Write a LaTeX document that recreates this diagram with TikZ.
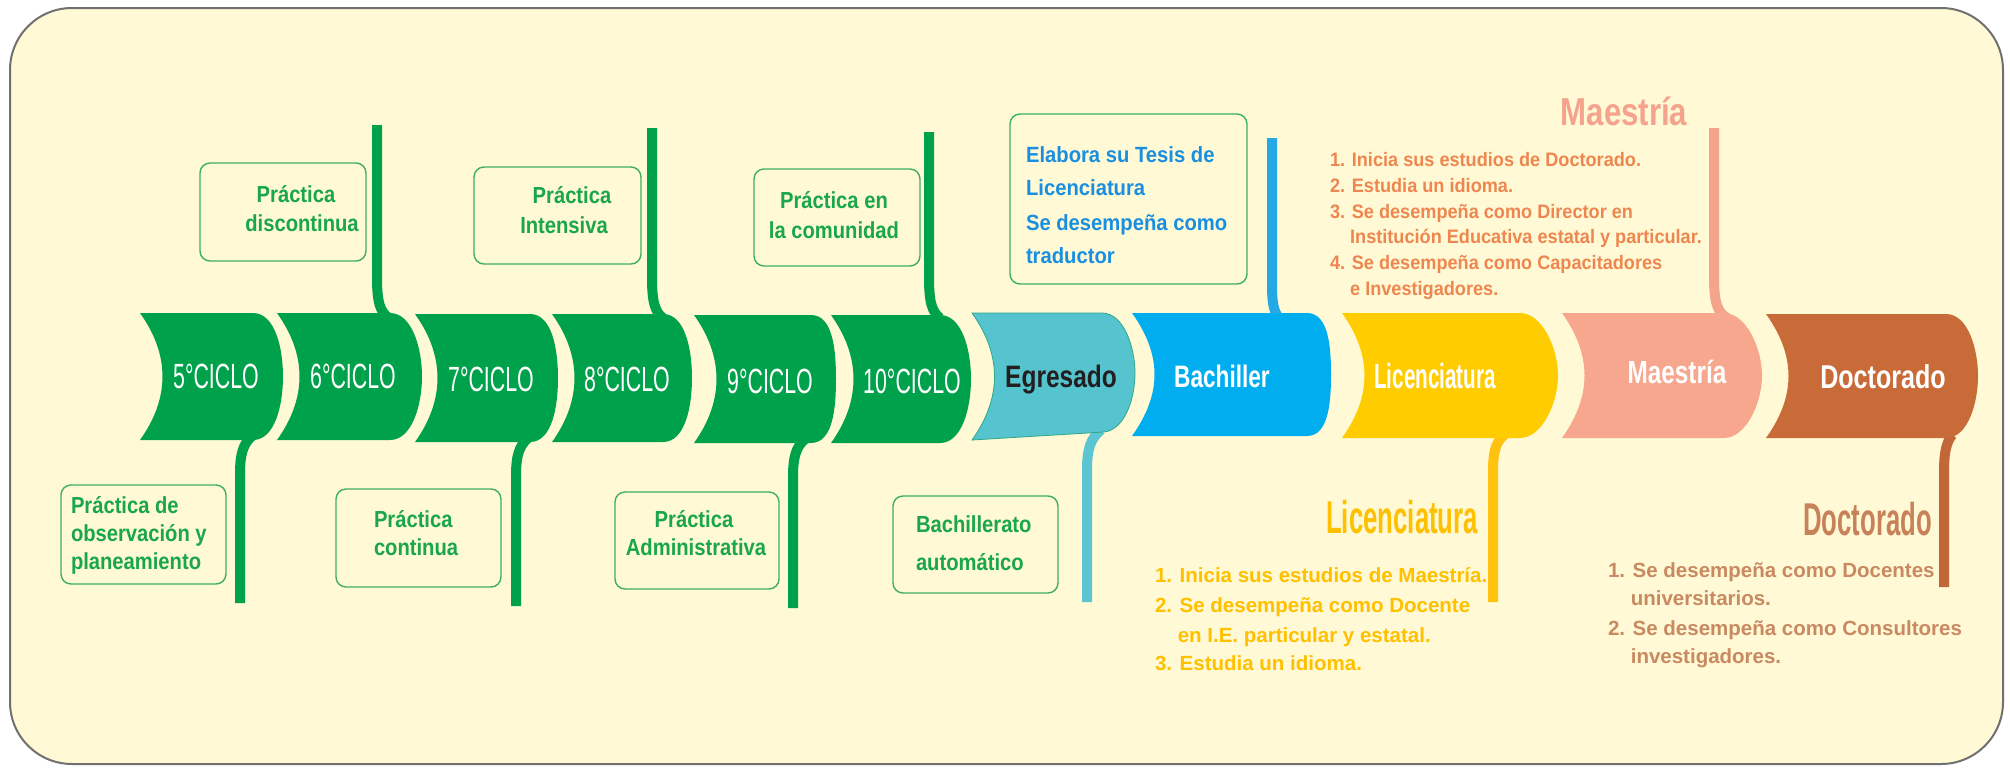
\documentclass[tikz,border=0pt]{standalone}
\usepackage{fontspec}
\setmainfont{Liberation Sans}
\newfontfamily\fCiclo[FakeStretch=0.61]{Liberation Sans}
\newfontfamily\fEgr[FakeStretch=0.79]{Liberation Sans}
\newfontfamily\fBach[FakeStretch=0.73]{Liberation Sans}
\newfontfamily\fLicS[FakeStretch=0.59]{Liberation Sans}
\newfontfamily\fMD[FakeStretch=0.76]{Liberation Sans}
\newfontfamily\fHead[FakeStretch=0.56]{Liberation Sans}
\newfontfamily\fMaeH[FakeStretch=0.80]{Liberation Sans}
\newfontfamily\fBox[FakeStretch=0.87]{Liberation Sans}
\newfontfamily\fTes[FakeStretch=0.92]{Liberation Sans}
\newfontfamily\fML[FakeStretch=0.93]{Liberation Sans}
\definecolor{bgc}{HTML}{FFF9D5}
\definecolor{framec}{HTML}{707070}
\definecolor{grn}{HTML}{00A14B}
\definecolor{boxgrn}{HTML}{3DB060}
\definecolor{boxtxt}{HTML}{1AA64A}
\definecolor{egr}{HTML}{55C4CF}
\definecolor{egrline}{HTML}{2FA88A}
\definecolor{egrstem}{HTML}{5BC5D1}
\definecolor{bachc}{HTML}{00AEEF}
\definecolor{bachstem}{HTML}{25A9E4}
\definecolor{licc}{HTML}{FFCC00}
\definecolor{licstem}{HTML}{FFC20E}
\definecolor{maec}{HTML}{F7A78E}
\definecolor{maestem}{HTML}{F4A48C}
\definecolor{docc}{HTML}{C96B38}
\definecolor{docstem}{HTML}{C2673A}
\definecolor{tesc}{HTML}{1A8FDF}
\definecolor{maelist}{HTML}{EE8650}
\definecolor{liclist}{HTML}{FFC000}
\definecolor{doclist}{HTML}{C98A62}
\definecolor{dochead}{HTML}{C8825A}
\definecolor{maehead}{HTML}{F5A38C}
\definecolor{egrtxt}{HTML}{231F20}
\newcommand\banner[6]{%
  \path[#6] (#1,#4) -- (#2,#4) .. controls ({#2+22},#4) and (#3,{#4+35}) .. (#3,{(#4+#5)/2})
    .. controls (#3,{#5-35}) and ({#2+22},#5) .. (#2,#5) -- (#1,#5)
    .. controls ({#1+30},{#5-42}) and ({#1+30},{#4+42}) .. cycle;}
\tikzset{
  lbl/.style={inner sep=0pt, outer sep=0pt},
  ciclo/.style={lbl, anchor=base, text=white, font={\fCiclo\fontsize{17.5}{20}\selectfont}},
  gbox/.style={draw=boxgrn, line width=0.7pt, rounded corners=5pt},
  btxt/.style={lbl, text=boxtxt, font={\fBox\bfseries\fontsize{11.6}{14}\selectfont}},
  ttxt/.style={lbl, anchor=base west, text=tesc, font={\fTes\bfseries\fontsize{11}{13}\selectfont}},
  mtxt/.style={lbl, anchor=base west, text=maelist, font={\fML\bfseries\fontsize{9.75}{12}\selectfont}},
  ltxt/.style={lbl, anchor=base west, text=liclist, font={\bfseries\fontsize{10.25}{12}\selectfont}},
  dtxt/.style={lbl, anchor=base west, text=doclist, font={\bfseries\fontsize{10.25}{12}\selectfont}},
  stem/.style={line width=5pt, line cap=butt}
}
\begin{document}
\begin{tikzpicture}[x=0.5pt,y=-0.5pt]
\useasboundingbox (0,0) rectangle (2010,767);
\fill[white] (0,0) rectangle (2010,767);
\draw[fill=bgc, draw=framec, line width=1pt, rounded corners=31pt] (10,8) rectangle (2003,764);

% ---- stem coordinates
\coordinate (s6t) at (377,125);  \coordinate (s6j) at (389,318);
\coordinate (s8t) at (652,128);  \coordinate (s8j) at (663,318);
\coordinate (s10t) at (929,132); \coordinate (s10j) at (940,318);
\coordinate (sBt) at (1272,138); \coordinate (sBj) at (1279,318);
\coordinate (sMt) at (1714,128); \coordinate (sMj) at (1727,318);
\coordinate (s5j) at (252,436);  \coordinate (s5b) at (240,603);
\coordinate (s7j) at (528,438);  \coordinate (s7b) at (516,606);
\coordinate (s9j) at (805,439);  \coordinate (s9b) at (793,608);
\coordinate (sEj) at (1101,430); \coordinate (sEb) at (1087,602);
\coordinate (sLj) at (1504,435); \coordinate (sLb) at (1493,602);
\coordinate (sDj) at (1952,435); \coordinate (sDb) at (1944,587);

% ---- up stems
\draw[stem, grn] (s6t) -- (377,278) .. controls (377,302) and (380,312) .. (s6j);
\draw[stem, grn] (s8t) -- (652,278) .. controls (652,302) and (655,312) .. (s8j);
\draw[stem, grn] (s10t) -- (929,278) .. controls (929,302) and (932,312) .. (s10j);
\draw[stem, bachstem] (sBt) -- (1272,285) .. controls (1272,304) and (1274,312) .. (sBj);
\draw[stem, maestem] (sMt) -- (1714,276) .. controls (1714,302) and (1717,312) .. (sMj);
% ---- down stems
\draw[stem, grn] (s5j) .. controls (243,444) and (240,454) .. (240,474) -- (s5b);
\draw[stem, grn] (s7j) .. controls (519,446) and (516,456) .. (516,476) -- (s7b);
\draw[stem, grn] (s9j) .. controls (796,447) and (793,457) .. (793,477) -- (s9b);
\draw[stem, egrstem] (sEj) .. controls (1091,438) and (1087,448) .. (1087,470) -- (sEb);
\draw[stem, licstem] (sLj) .. controls (1495,443) and (1493,453) .. (1493,473) -- (sLb);
\draw[stem, docstem] (sDj) .. controls (1946,443) and (1944,453) .. (1944,473) -- (sDb);

% ---- banners
\banner{140}{253}{283}{313}{440}{fill=grn}
\banner{277}{390}{422}{313}{440}{fill=grn}
\banner{415}{530}{558}{314}{442}{fill=grn}
\banner{552}{663}{692}{314}{442}{fill=grn}
\banner{694}{811}{836}{315}{443}{fill=grn}
\banner{831}{940}{971}{315}{443}{fill=grn}
\path[fill=egr, draw=egrline, line width=0.4pt] (972,313) -- (1102,313)
  .. controls (1124,313) and (1135,348) .. (1135,373)
  .. controls (1135,400) and (1124,430) .. (1104,432) -- (972,440)
  .. controls (1002,398) and (1002,355) .. cycle;
\banner{1132}{1307}{1331}{313}{436}{fill=bachc}
\banner{1342}{1520}{1558}{313}{438}{fill=licc}
\banner{1562}{1724}{1762}{313}{438}{fill=maec}
\banner{1766}{1946}{1978}{314}{438}{fill=docc}

% ---- banner labels
\node[ciclo] (c5) at (216,388) {5°CICLO};
\node[ciclo] (c6) at (353,388) {6°CICLO};
\node[ciclo] (c7) at (491,391) {7°CICLO};
\node[ciclo] (c8) at (627,391) {8°CICLO};
\node[ciclo] (c9) at (770,393) {9°CICLO};
\node[ciclo] (c10) at (912,393) {10°CICLO};
\node[lbl, anchor=base, text=egrtxt, font={\fEgr\bfseries\fontsize{15.5}{18}\selectfont}] (egr) at (1061,387) {Egresado};
\node[lbl, anchor=base, text=white, font={\fBach\bfseries\fontsize{15.5}{18}\selectfont}] (bach) at (1222,387) {Bachiller};
\node[lbl, anchor=base, text=white, font={\fLicS\bfseries\fontsize{17.5}{20}\selectfont}] (lic) at (1435,388) {Licenciatura};
\node[lbl, anchor=base, text=white, font={\fMD\bfseries\fontsize{16}{19}\selectfont}] (mae) at (1677,383) {Maestría};
\node[lbl, anchor=base, text=white, font={\fMD\bfseries\fontsize{16.5}{19}\selectfont}] (doc) at (1883,388) {Doctorado};

% ---- green boxes
\draw[gbox] (200,163) rectangle (366,261);
\node[btxt, anchor=base] (disc1) at (296,202) {Práctica};
\node[btxt, anchor=base] (disc2) at (302,231) {discontinua};
\draw[gbox] (474,167) rectangle (641,264);
\node[btxt, anchor=base] (int1) at (572,203) {Práctica};
\node[btxt, anchor=base] (int2) at (564,233) {Intensiva};
\draw[gbox] (754,169) rectangle (920,266);
\node[btxt, anchor=base] (com1) at (834,208) {Práctica en};
\node[btxt, anchor=base] (com2) at (834,238) {la comunidad};
\draw[gbox] (61,485) rectangle (226,584);
\node[btxt, anchor=base west] (obs1) at (71,513) {Práctica de};
\node[btxt, anchor=base west] (obs2) at (71,541) {observación y};
\node[btxt, anchor=base west] (obs3) at (71,569) {planeamiento};
\draw[gbox] (336,489) rectangle (501,587);
\node[btxt, anchor=base west] (cont1) at (374,527) {Práctica};
\node[btxt, anchor=base west] (cont2) at (374,555) {continua};
\draw[gbox] (615,492) rectangle (779,589);
\node[btxt, anchor=base] (adm1) at (694,527) {Práctica};
\node[btxt, anchor=base] (adm2) at (696,555) {Administrativa};
\draw[gbox] (893,496) rectangle (1058,593);
\node[btxt, anchor=base west] (bau1) at (916,532) {Bachillerato};
\node[btxt, anchor=base west] (bau2) at (916,570) {automático};
\draw[gbox] (1010,114) rectangle (1247,284);
\node[ttxt] (tes1) at (1026,162) {Elabora su Tesis de};
\node[ttxt] (tes2) at (1026,195) {Licenciatura};
\node[ttxt] (tes3) at (1026,230) {Se desempeña como};
\node[ttxt] (tes4) at (1026,263) {traductor};

% ---- Maestría block
\node[lbl, anchor=base, text=maehead, font={\fMaeH\bfseries\fontsize{19.5}{23}\selectfont}] (maeh) at (1624,125) {Maestría};
\node[mtxt] (ml1) at (1330,166) {1. Inicia sus estudios de Doctorado.};
\node[mtxt] (ml2) at (1330,192) {2. Estudia un idioma.};
\node[mtxt] (ml3) at (1330,218) {3. Se desempeña como Director en};
\node[mtxt] (ml4) at (1330,243) {\phantom{3.}\ Institución Educativa estatal y particular.};
\node[mtxt] (ml5) at (1330,269) {4. Se desempeña como Capacitadores};
\node[mtxt] (ml6) at (1330,295) {\phantom{4.}\ e Investigadores.};

% ---- Licenciatura block
\node[lbl, anchor=base east, text=liclist, font={\fHead\bfseries\fontsize{23}{27}\selectfont}] (lich) at (1478,533) {Licenciatura};
\node[ltxt] (ll1) at (1155,582) {1. Inicia sus estudios de Maestría.};
\node[ltxt] (ll2) at (1155,612) {2. Se desempeña como Docente};
\node[ltxt] (ll3) at (1155,642) {\phantom{2.}\ en I.E. particular y estatal.};
\node[ltxt] (ll4) at (1155,670) {3. Estudia un idioma.};

% ---- Doctorado block
\node[lbl, anchor=base east, text=dochead, font={\fHead\bfseries\fontsize{23}{27}\selectfont}] (doch) at (1932,535) {Doctorado};
\node[dtxt] (dl1) at (1608,577) {1. Se desempeña como Docentes};
\node[dtxt] (dl2) at (1608,605) {\phantom{1.}\ universitarios.};
\node[dtxt] (dl3) at (1608,635) {2. Se desempeña como Consultores};
\node[dtxt] (dl4) at (1608,663) {\phantom{2.}\ investigadores.};
\end{tikzpicture}
\end{document}
